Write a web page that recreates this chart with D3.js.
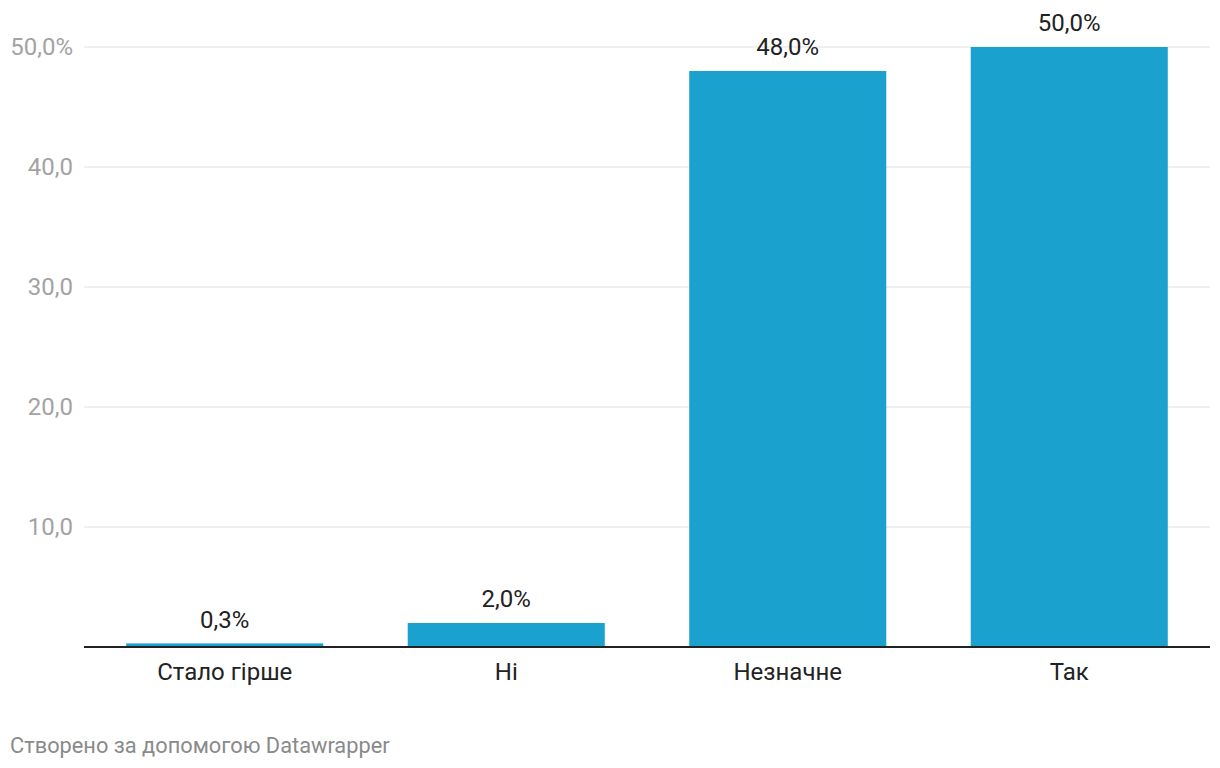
<!DOCTYPE html>
<html><head><meta charset="utf-8">
<script src="https://cdn.jsdelivr.net/npm/d3@7"></script>
<style>
body{margin:0;background:#fff;font-family:Roboto,"Noto Sans",sans-serif;}
</style></head>
<body><svg id="c" width="1220" height="768"></svg>
<script>
const categories = ["Стало гірше", "Ні", "Незначне", "Так"];
const values = [0.3, 2.0, 48.0, 50.0];
const yTicks = [10, 20, 30, 40, 50];
const valueLabels = ["0,3%", "2,0%", "48,0%", "50,0%"];
const tickLabels = ["10,0", "20,0", "30,0", "40,0", "50,0%"];
const footer = "Створено за допомогою Datawrapper";

(function () {
const svg = d3.select("#c");
const mLeft = 84, mRight = 1210, mTop = 47, mBottom = 647;
const x = d3.scaleBand().domain(categories).range([mLeft, mRight]).paddingInner(0.3).paddingOuter(0.15);
const y = d3.scaleLinear().domain([0, 50]).range([mBottom, mTop]);

const grid = svg.append("g");
yTicks.forEach((t, i) => {
  grid.append("line").attr("x1", mLeft).attr("x2", mRight).attr("y1", y(t)).attr("y2", y(t))
    .attr("stroke", "#e1e1e1").attr("stroke-width", 1);
  grid.append("text").attr("x", 73).attr("y", y(t)).attr("dy", "0.35em")
    .attr("text-anchor", "end").attr("fill", "#a3a3a3").attr("font-size", 24).text(tickLabels[i]);
});

svg.append("g").selectAll("rect").data(values).join("rect")
  .attr("x", (d, i) => x(categories[i])).attr("width", x.bandwidth())
  .attr("y", d => y(d)).attr("height", d => mBottom - y(d)).attr("fill", "#1aa1cd");

svg.append("g").selectAll("text").data(values).join("text")
  .attr("x", (d, i) => x(categories[i]) + x.bandwidth() / 2)
  .attr("y", d => y(d) - 24).attr("dy", "0.35em").attr("text-anchor", "middle")
  .attr("fill", "#222").attr("font-size", 24).text((d, i) => valueLabels[i]);

svg.append("line").attr("x1", mLeft).attr("x2", mRight).attr("y1", mBottom).attr("y2", mBottom)
  .attr("stroke", "#222").attr("stroke-width", 2);

svg.append("g").selectAll("text").data(categories).join("text")
  .attr("x", d => x(d) + x.bandwidth() / 2).attr("y", 672).attr("dy", "0.35em")
  .attr("text-anchor", "middle").attr("fill", "#222").attr("font-size", 24).text(d => d);

svg.append("text").attr("x", 10).attr("y", 745).attr("dy", "0.35em")
  .attr("fill", "#8a8a8a").attr("font-size", 21.8).text(footer);
})();
</script></body></html>
